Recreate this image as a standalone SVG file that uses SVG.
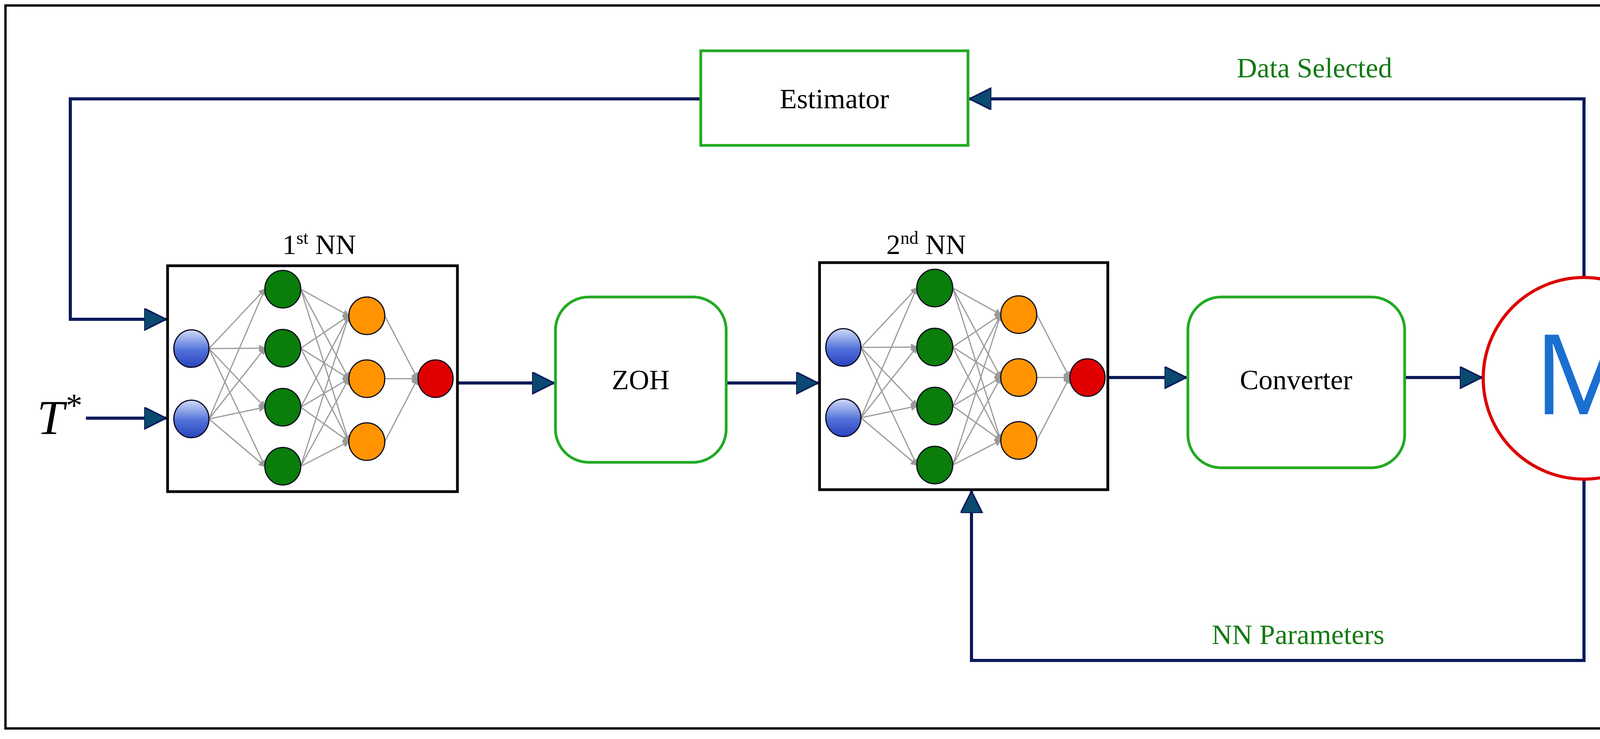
<svg xmlns="http://www.w3.org/2000/svg" xmlns:xlink="http://www.w3.org/1999/xlink" width="4415" height="1891" viewBox="0 0 4415 1891">
<style>
.lbl{font-family:"Liberation Serif","Times New Roman",serif;font-size:72px;fill:#000;text-anchor:middle}
.glbl{font-family:"Liberation Serif","Times New Roman",serif;font-size:72px;fill:#137a13;text-anchor:middle}
.conn{fill:none;stroke:#0b1a5a;stroke-width:8}
.gbox{fill:#fff;stroke:#22aa22;stroke-width:7}
.nnbox{fill:#fff;stroke:#000;stroke-width:7}
.w{stroke:#9a9a9a;stroke-width:3;marker-end:url(#ga)}
.nd{stroke:#0a0a20;stroke-width:3}
</style>
<defs>
<marker id="arr" markerWidth="8" markerHeight="8" refX="7" refY="3.5" orient="auto" markerUnits="strokeWidth">
<path d="M0,0 L7,3.5 L0,7 Z" fill="#0b4a70" stroke="#0b1a5a" stroke-width="0.5"/>
</marker>
<marker id="ga" markerWidth="6" markerHeight="6" refX="5" refY="3" orient="auto" markerUnits="strokeWidth">
<path d="M0,0 L6,3 L0,6 Z" fill="#9a9a9a"/>
</marker>
<linearGradient id="bg" x1="0" y1="0" x2="0" y2="1">
<stop offset="0" stop-color="#d0dcf8"/><stop offset="0.55" stop-color="#5070d8"/><stop offset="1" stop-color="#2a44c0"/>
</linearGradient>
<g id="net">
<g class="w">
<line x1="106" y1="212" x2="249" y2="60"/><line x1="106" y1="212" x2="249" y2="211"/><line x1="106" y1="212" x2="249" y2="362"/><line x1="106" y1="212" x2="249" y2="513"/>
<line x1="106" y1="392" x2="249" y2="60"/><line x1="106" y1="392" x2="249" y2="211"/><line x1="106" y1="392" x2="249" y2="362"/><line x1="106" y1="392" x2="249" y2="513"/>
<line x1="341" y1="60" x2="464" y2="128"/><line x1="341" y1="60" x2="464" y2="289"/><line x1="341" y1="60" x2="464" y2="450"/>
<line x1="341" y1="211" x2="464" y2="128"/><line x1="341" y1="211" x2="464" y2="289"/><line x1="341" y1="211" x2="464" y2="450"/>
<line x1="341" y1="362" x2="464" y2="128"/><line x1="341" y1="362" x2="464" y2="289"/><line x1="341" y1="362" x2="464" y2="450"/>
<line x1="341" y1="513" x2="464" y2="128"/><line x1="341" y1="513" x2="464" y2="289"/><line x1="341" y1="513" x2="464" y2="450"/>
<line x1="556" y1="128" x2="640" y2="289"/><line x1="556" y1="289" x2="640" y2="289"/><line x1="556" y1="450" x2="640" y2="289"/>
</g>
<g class="nd">
<ellipse cx="61" cy="212" rx="45" ry="48" fill="url(#bg)"/><ellipse cx="61" cy="392" rx="45" ry="48" fill="url(#bg)"/>
<ellipse cx="295" cy="60" rx="46" ry="48" fill="#0a7d0a"/><ellipse cx="295" cy="211" rx="46" ry="48" fill="#0a7d0a"/>
<ellipse cx="295" cy="362" rx="46" ry="48" fill="#0a7d0a"/><ellipse cx="295" cy="513" rx="46" ry="48" fill="#0a7d0a"/>
<ellipse cx="510" cy="128" rx="46" ry="48" fill="#ff9400"/><ellipse cx="510" cy="289" rx="46" ry="48" fill="#ff9400"/><ellipse cx="510" cy="450" rx="46" ry="48" fill="#ff9400"/>
<ellipse cx="686" cy="289" rx="45" ry="48" fill="#e00000"/>
</g>
</g>
</defs>
<rect width="4415" height="1891" fill="#fff"/>
<rect x="14" y="14" width="4372" height="1850" fill="none" stroke="#000" stroke-width="6"/>

<g id="connectors">
<polyline class="conn" points="1794,253 180,253 180,817 425,817" marker-end="url(#arr)"/>
<line class="conn" x1="220" y1="1070" x2="425" y2="1070" marker-end="url(#arr)"/>
<line class="conn" x1="1171" y1="980" x2="1418" y2="980" marker-end="url(#arr)"/>
<line class="conn" x1="1859" y1="980" x2="2094" y2="980" marker-end="url(#arr)"/>
<line class="conn" x1="2836" y1="966" x2="3037" y2="966" marker-end="url(#arr)"/>
<line class="conn" x1="3596" y1="966" x2="3793" y2="966" marker-end="url(#arr)"/>
<polyline class="conn" points="4055,710 4055,253 2482,253" marker-end="url(#arr)"/>
<polyline class="conn" points="4055,1226 4055,1690 2487,1690 2487,1257" marker-end="url(#arr)"/>
</g>

<g id="estimator">
<rect class="gbox" x="1794" y="130" width="684" height="242"/>
<text class="lbl" x="2136" y="277">Estimator</text>
</g>
<g id="tstar">
<text x="95" y="1111" font-family="Liberation Serif,serif" font-style="italic" font-size="125">T<tspan font-size="85" dy="-45">*</tspan></text>
</g>
<g id="nn1">
<text class="lbl" x="817" y="650">1<tspan font-size="46" dy="-26">st</tspan><tspan dy="26"> NN</tspan></text>
<rect class="nnbox" x="429" y="680" width="742" height="578"/>
<use xlink:href="#net" href="#net" transform="translate(429,680)"/>
</g>
<g id="zoh">
<rect class="gbox" x="1422" y="760" width="437" height="423" rx="85"/>
<text class="lbl" x="1640" y="996">ZOH</text>
</g>
<g id="nn2">
<text class="lbl" x="2371" y="650">2<tspan font-size="46" dy="-26">nd</tspan><tspan dy="26"> NN</tspan></text>
<rect class="nnbox" x="2098" y="672" width="738" height="581"/>
<use xlink:href="#net" href="#net" transform="translate(2098,677)"/>
</g>
<g id="converter">
<rect class="gbox" x="3041" y="760" width="555" height="437" rx="85"/>
<text class="lbl" x="3318" y="996">Converter</text>
</g>
<g id="motor">
<circle cx="4055" cy="968" r="258" fill="#fff" stroke="#dd0000" stroke-width="8"/>
<text x="4055" y="1060" text-anchor="middle" font-family="Open Sans,Liberation Sans,sans-serif" font-size="285" fill="#1a6fd0">M</text>
</g>
<text class="glbl" x="3365" y="198">Data Selected</text>
<text class="glbl" x="3323" y="1648">NN Parameters</text>
</svg>
